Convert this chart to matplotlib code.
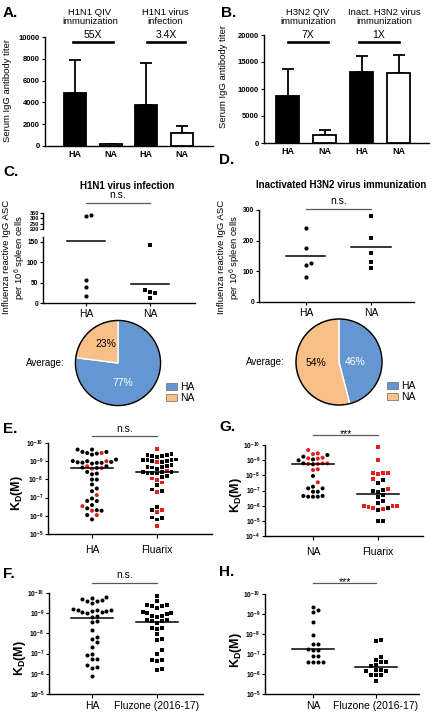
import numpy as np
import matplotlib
matplotlib.use('Agg')
from matplotlib import pyplot as plt
import matplotlib.patches as mpatches
from matplotlib.ticker import NullLocator
from matplotlib.transforms import blended_transform_factory

plt.rcParams['font.family'] = ['Liberation Sans', 'DejaVu Sans']
plt.rcParams['mathtext.fontset'] = 'custom'
plt.rcParams['mathtext.rm'] = 'Liberation Sans'
plt.rcParams['mathtext.bf'] = 'Liberation Sans:bold'
plt.rcParams['mathtext.it'] = 'Liberation Sans:italic'

############## data ##############
bar_labels = ['HA', 'NA', 'HA', 'NA']
bar_fill = ['black', 'white', 'black', 'white']
a_mean = [4900, 150, 3800, 1150]
a_sd = [2950, 0, 3800, 650]
a_groups = ['H1N1 QIV\nimmunization', 'H1N1 virus\ninfection']
a_ratio = ['55X', '3.4X']
b_mean = [8700, 1400, 13200, 13000]
b_sd = [5000, 1000, 3000, 3300]
b_groups = ['H3N2 QIV\nimmunization', 'Inact. H3N2 virus\nimmunization']
b_ratio = ['7X', '1X']

c_ha = [330, 320, 57, 40, 17]
c_na = [143, 32, 28, 24, 12]
d_ha = [240, 175, 127, 120, 80]
d_na = [280, 208, 160, 132, 112]
pie_c = [77, 23]   # HA, NA
pie_d = [46, 54]

# log10(KD) values, colour flag r = red
e_ha = [-9.64, -9.51, -9.45, -9.42, -9.36, -9.45, -9.51, -9.64,
        -9.09, -9.0, -8.96, -8.92, -8.91, -8.87, -8.91, -8.94, -9.0, -9.01,
        -8.63, -8.65, -8.72, -8.59, -8.63, -8.72, -8.32, -8.28, -8.41,
        -7.99, -7.99, -7.72, -7.5, -7.35, -7.14, -6.95, -6.82, -6.81,
        -6.59, -6.53, -6.41, -6.28, -6.31, -6.28, -6.04, -6.04, -5.80]
e_ha_c = list('kkkkkrkk' 'kkkkkkkkrk' 'kkrrrk' 'kkk' 'kkkkkr' 'kkk' 'krk' 'rkk' 'rkk')
e_fl = [-9.65, -9.36, -9.27, -9.23, -9.27, -9.32, -9.38,
        -9.09, -9.05, -8.96, -8.94, -9.0, -9.01, -9.05, -9.05,
        -8.69, -8.78, -8.72, -8.65, -8.59, -8.69, -8.45,
        -8.41, -8.36, -8.41, -8.32, -8.36, -8.41,
        -8.05, -8.14, -8.18, -7.83, -7.96, -7.68, -7.45, -7.35, -7.32,
        -6.5, -6.31, -6.31, -6.22, -5.86, -5.80, -5.91, -5.44]
e_fl_c = list('r' 'kkkkkk' 'kkkrkkkk' 'kkkkkkr' 'kkkkkk' 'rkk' 'rr' 'kkkr' 'krkr' 'kkk' 'r')
g_na = [-9.34, -9.12, -9.16, -9.67, -9.45, -9.40, -9.23, -9.05, -8.99, -9.10,
        -8.79, -8.75, -8.73, -8.79, -8.75, -8.79, -8.35, -8.40, -7.96, -7.54,
        -7.25, -7.14, -7.14, -6.92, -6.92, -6.59, -6.59, -6.59, -6.64, -6.64]
g_na_c = list('krrrrrk' 'kkr' 'rrkkrr' 'rr' 'k' 'r' 'kkkkk' 'kkkkk')
g_fl = [-9.85, -9.0, -8.13, -8.09, -8.13, -8.18, -7.69, -7.52, -7.74,
        -7.08, -7.03, -6.97, -6.92, -6.70, -6.59, -6.15, -6.33,
        -5.98, -5.82, -5.76, -5.71, -5.82, -5.93, -5.98, -5.98, -5.01, -5.01]
g_fl_c = list('rr' 'rrrr' 'kkr' 'rkkk' 'kk' 'kk' 'rrrkkrrr' 'kk')
f_ha = [-9.78, -9.70, -9.59, -9.50, -9.59, -9.67, -9.75,
        -9.20, -9.14, -9.09, -9.04, -9.0, -9.04, -9.09, -9.14, -9.17,
        -8.87, -8.81, -8.59, -8.56, -8.18, -7.84, -7.71, -7.55, -7.35,
        -6.93, -6.98, -6.72, -6.72, -6.43, -6.27, -6.32, -5.89]
f_fz = [-9.83, -9.59, -9.42, -9.34, -9.25, -9.37, -9.42,
        -9.0, -8.97, -8.87, -8.81, -8.87, -9.0, -9.04,
        -8.67, -8.64, -8.59, -8.51, -8.59, -8.26, -8.21, -8.26,
        -7.96, -7.65, -7.71, -7.18, -6.98, -6.68, -6.65, -6.68, -6.19, -6.22]
h_na = [-9.19, -9.08, -9.33, -8.61, -7.93, -7.48, -7.51, -7.21, -7.26, -7.18,
        -6.92, -6.92, -6.59, -6.59, -6.59, -6.59]
h_fz = [-7.71, -7.65, -6.87, -6.62, -6.71, -6.62, -6.42, -6.47,
        -6.17, -6.20, -6.17, -6.20, -5.95, -5.95, -5.95, -5.63]
# median lines (log10 KD)
e_med = [-8.63, -8.41]
g_med = [-8.73, -6.75]
f_med = [-8.76, -8.54]
h_med = [-7.23, -6.37]

RED = '#e3211c'
BLUE = '#6496d2'
ORANGE = '#f8bf86'

W, H = 432, 713
fig = plt.figure(figsize=(W / 100, H / 100), dpi=100)


def box(l, t, r, b):
    return fig.add_axes([l / W, 1 - b / H, (r - l) / W, (b - t) / H])


def ftext(x, y, s, **kw):
    kw.setdefault('ha', 'center')
    kw.setdefault('va', 'center')
    fig.text(x / W, 1 - y / H, s, **kw)


def fline(x1, x2, y, lw=1.0, color='k'):
    fig.add_artist(plt.Line2D([x1 / W, x2 / W], [1 - y / H, 1 - y / H], lw=lw, color=color))


def style(ax, ysize=5.5):
    for s in ['top', 'right']:
        ax.spines[s].set_visible(False)
    for s in ['left', 'bottom']:
        ax.spines[s].set_linewidth(1.0)
    ax.tick_params(direction='out', length=2.5, width=0.8, labelsize=ysize, pad=1)


def swarm(ax, xc, vals, d):
    vals = np.asarray(vals, float)
    pix = ax.transData.transform(np.column_stack([np.full(len(vals), xc), vals]))
    x0 = pix[0, 0]
    placed = []
    xs = np.empty(len(vals))
    for i in np.argsort(pix[:, 1], kind='stable'):
        y = pix[i, 1]
        offs = [0.0]
        k = 1
        while True:
            ok = None
            for off in offs:
                if all((x0 + off - px) ** 2 + (y - py) ** 2 >= 0.97 * d * d for px, py in placed):
                    ok = off
                    break
            if ok is not None:
                break
            offs = [k * d, -k * d]
            k += 1
        placed.append((x0 + ok, y))
        xs[i] = x0 + ok
    return ax.transData.inverted().transform(np.column_stack([xs, pix[:, 1]]))[:, 0]


def sig(ax, y_line, text, star=False, color='0.35'):
    tr = blended_transform_factory(ax.transData, fig.transFigure)
    ax.plot([0, 1], [1 - y_line / H] * 2, transform=tr, clip_on=False, color=color, lw=0.9)
    yb = y_line + 2 if star else y_line - 4.5
    ax.text(0.5, 1 - yb / H, text, transform=tr, ha='center', va='baseline', fontsize=7.5)


############## A / B bar panels ##############
def bar_panel(bx, xlim, ylim, yticks, means, sds, groups, ratios, grp_x, ratio_lines):
    ax = box(*bx)
    style(ax)
    x = np.arange(len(means))
    ax.bar(x, means, width=0.62, color=bar_fill, edgecolor='k', lw=1.3, zorder=2)
    ax.errorbar(x, means, yerr=[np.zeros(len(sds)), sds], fmt='none', ecolor='k',
                elinewidth=1.3, capsize=4.3, capthick=1.3, zorder=1)
    ax.set_xlim(*xlim)
    ax.set_ylim(*ylim)
    ax.set_yticks(yticks, labels=[str(v) for v in yticks], fontweight='bold', fontsize=5.5)
    ax.set_xticks(x, labels=bar_labels, fontweight='bold', fontsize=6.5)
    ax.tick_params(axis='x', length=0, pad=3)
    for g, gx, r, (x1, x2) in zip(groups, grp_x, ratios, ratio_lines):
        ftext(gx, 17, g, fontsize=6.8, linespacing=1.0)
        ftext((x1 + x2) / 2, 34.5, r, fontsize=7.5)
        fline(x1, x2, 41.7, lw=1.9)
    return ax


bar_panel((45, 37, 213, 146), (-0.84, 3.87), (0, 10000), list(range(0, 10001, 2000)),
          a_mean, a_sd, a_groups, a_ratio, [90, 165], [(73, 113), (147, 185)])
ftext(8, 91, 'Serum IgG antibody titer', rotation=90, fontsize=6.8)
bar_panel((264, 35, 429, 143), (-0.64, 3.82), (0, 20000), list(range(0, 20001, 5000)),
          b_mean, b_sd, b_groups, b_ratio, [308, 384], [(288, 328), (359, 399)])
ftext(224, 76, 'Serum IgG antibody titer', rotation=90, fontsize=6.8)

############## C / D ASC panels ##############
asc_label = 'Influenza reactive IgG ASC\nper 10$^6$ spleen cells'

# C: broken y axis
axt = box(43, 213, 195, 229)
axb = box(43, 237, 195, 303)
for ax in (axt, axb):
    style(ax, 4.6)
    ax.set_xlim(-0.67, 1.70)
axt.spines['bottom'].set_visible(False)
axt.set_xticks([])
axt.set_ylim(200, 350)
axt.set_yticks([200, 250, 300, 350], labels=['200', '250', '300', '350'], fontweight='bold', fontsize=4)
axt.tick_params(axis='y', length=2, pad=0.5)
axb.set_ylim(0, 162)
axb.set_yticks([0, 50, 100, 150], labels=['0', '50', '100', '150'], fontweight='bold', fontsize=4.8)
axb.set_xticks([0, 1], labels=['HA', 'NA'], fontsize=7.5)
axb.tick_params(axis='x', pad=2)
hi = [v for v in c_ha if v > 200]
lo = [v for v in c_ha if v <= 200]
axt.scatter(swarm(axt, 0, hi, 5), hi, s=9, marker='o', color='k', lw=0, zorder=3)
axb.scatter(swarm(axb, 0, lo, 5), lo, s=9, marker='o', color='k', lw=0, zorder=3)
axb.scatter(swarm(axb, 1, c_na, 5), c_na, s=9, marker='s', color='k', lw=0, zorder=3)
axb.plot([-0.3, 0.3], [np.mean(c_ha)] * 2, color='k', lw=1.1)
axb.plot([0.7, 1.3], [np.mean(c_na)] * 2, color='k', lw=1.1)
sig(axb, 203, 'n.s.')
ftext(127, 186, 'H1N1 virus infection', fontsize=7, fontweight='bold')
ftext(15, 257, asc_label, rotation=90, fontsize=6.8, linespacing=1.15)

axd = box(259, 210, 414, 302)
style(axd, 4.8)
axd.set_xlim(-0.72, 1.66)
axd.set_ylim(0, 300)
axd.set_yticks([0, 100, 200, 300], labels=['0', '100', '200', '300'], fontweight='bold', fontsize=4.8)
axd.set_xticks([0, 1], labels=['HA', 'NA'], fontsize=7.5)
axd.tick_params(axis='x', pad=2)
axd.scatter(swarm(axd, 0, d_ha, 5), d_ha, s=9, marker='o', color='k', lw=0, zorder=3)
axd.scatter(swarm(axd, 1, d_na, 5), d_na, s=9, marker='s', color='k', lw=0, zorder=3)
axd.plot([-0.3, 0.3], [np.mean(d_ha)] * 2, color='k', lw=1.1)
axd.plot([0.7, 1.3], [np.mean(d_na)] * 2, color='k', lw=1.1)
sig(axd, 209, 'n.s.')
ftext(341, 185, 'Inactivated H3N2 virus immunization', fontsize=7, fontweight='bold')
ftext(230, 257, asc_label, rotation=90, fontsize=6.8, linespacing=1.15)


############## pies ##############
def pie_panel(cx, cy, r, vals, txt_pos, avg_x, leg_xy):
    m = 1.04
    ax = box(cx - r * m, cy - r * m, cx + r * m, cy + r * m)
    ax.pie(vals, colors=[BLUE, ORANGE], startangle=90, counterclock=False,
           wedgeprops=dict(edgecolor='white', lw=1.0))
    ax.add_patch(mpatches.Circle((0, 0), 1, fill=False, ec='k', lw=1.1))
    ax.set_xlim(-m, m)
    ax.set_ylim(-m, m)
    for v, (tx, ty), c in zip(vals, txt_pos, ['white', 'black']):
        ftext(tx, ty, '%d%%' % v, fontsize=7.5, color=c)
    ftext(avg_x, cy, 'Average:', fontsize=7, ha='right')
    handles = [mpatches.Patch(facecolor=BLUE, edgecolor='0.4', lw=0.5, label='HA'),
               mpatches.Patch(facecolor=ORANGE, edgecolor='0.4', lw=0.5, label='NA')]
    fig.legend(handles=handles, loc='upper left', bbox_to_anchor=(leg_xy[0] / W, 1 - leg_xy[1] / H),
               frameon=False, fontsize=7.5, handlelength=1.1, handleheight=0.75, handletextpad=0.3,
               labelspacing=0.1, borderpad=0, borderaxespad=0)


pie_panel(118, 363, 42.5, pie_c, [(123, 383), (106, 344)], 65, (166, 382))
pie_panel(339, 362, 43, pie_d, [(355, 362), (316, 363)], 285, (387, 381))


############## KD panels ##############
def kd_panel(bx, xlim, ybot, names, v1, c1, v2, c2, meds, sig_y, sig_txt, kd_xy, xpad):
    ax = box(*bx)
    style(ax)
    ax.set_yscale('log')
    ax.set_xlim(*xlim)
    ax.set_ylim(10.0 ** ybot, 1e-10)
    dec = list(range(-10, ybot + 1))
    ax.set_yticks([10.0 ** d for d in dec],
                  labels=[r'$\mathbf{10^{%d}}$' % d for d in dec], fontsize=4.8)
    ax.yaxis.set_minor_locator(NullLocator())
    ax.set_xticks([0, 1], labels=names, fontsize=7.5)
    ax.tick_params(axis='x', length=3, pad=xpad)
    for i, (v, c, mk) in enumerate([(v1, c1, 'o'), (v2, c2, 's')]):
        vals = 10.0 ** np.array(v)
        cols = [RED if f == 'r' else 'k' for f in c] if c else 'k'
        ax.scatter(swarm(ax, i, vals, 4.8), vals, s=8.5 if mk == 'o' else 7.5, marker=mk,
                   color=cols, lw=0, zorder=3, clip_on=False)
        ax.plot([i - 0.33, i + 0.33], [10.0 ** meds[i]] * 2, color='k', lw=1.1, zorder=4)
    sig(ax, sig_y, sig_txt, star=(sig_txt == '***'))
    ftext(kd_xy[0], kd_xy[1], r'$\mathbf{K_D(M)}$', rotation=90, fontsize=9)
    return ax


kd_panel((48, 443, 212, 534), (-0.677, 1.846), -5, ['HA', 'Fluarix'],
         e_ha, e_ha_c, e_fl, e_fl_c, e_med, 436, 'n.s.', (17, 493), 5)
kd_panel((265, 445, 423, 536), (-0.738, 1.692), -4, ['NA', 'Fluarix'],
         g_na, g_na_c, g_fl, g_fl_c, g_med, 435, '***', (236, 495), 5)
kd_panel((49, 593, 203, 694), (-0.662, 1.708), -5, ['HA', 'Fluzone (2016-17)'],
         f_ha, None, f_fz, None, f_med, 583, 'n.s.', (20, 658), 2)
kd_panel((265, 594, 419, 694), (-0.762, 1.683), -5, ['NA', 'Fluzone (2016-17)'],
         h_na, None, h_fz, None, h_med, 583, '***', (236, 650), 2)

############## panel letters ##############
for s, x, y in [('A.', 3, 13), ('B.', 221, 13), ('C.', 3, 172), ('D.', 219, 160),
                ('E.', 3, 429), ('G.', 219, 427), ('F.', 3, 574), ('H.', 219, 572)]:
    ftext(x, y, s, fontsize=11, fontweight='bold', ha='left')

fig.savefig('out.png', dpi=100)
